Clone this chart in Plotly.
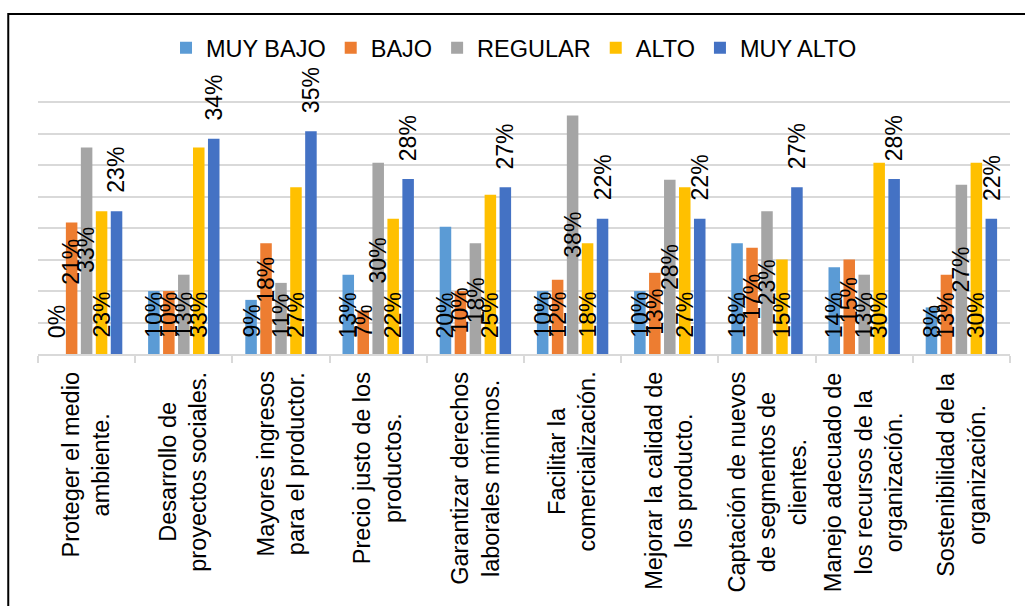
import plotly.graph_objects as go

categorias = [
    "Proteger el medio<br>ambiente.",
    "Desarrollo de<br>proyectos sociales.",
    "Mayores ingresos<br>para el productor.",
    "Precio justo de los<br>productos.",
    "Garantizar derechos<br>laborales mínimos.",
    "Facilitar la<br>comercialización.",
    "Mejorar la calidad de<br>los producto.",
    "Captación de nuevos<br>de segmentos de<br>clientes.",
    "Manejo adecuado de<br>los recursos de la<br>organización.",
    "Sostenibilidad de la<br>organización.",
]

series = ["MUY BAJO", "BAJO", "REGULAR", "ALTO", "MUY ALTO"]

# alturas de barra (%)
muy_bajo = [0, 10.0, 8.6, 12.6, 20.2, 10.0, 10.0, 17.6, 13.8, 7.4]
bajo = [20.9, 10.0, 17.6, 6.9, 10.0, 11.8, 12.9, 16.9, 15.0, 12.6]
regular = [32.8, 12.6, 11.3, 30.4, 17.6, 37.9, 27.7, 22.7, 12.6, 26.9]
alto = [22.7, 32.8, 26.5, 21.5, 25.3, 17.6, 26.5, 15.0, 30.4, 30.4]
muy_alto = [22.7, 34.2, 35.4, 27.8, 26.5, 21.5, 21.5, 26.5, 27.8, 21.5]

# etiquetas de datos (%)
et_muy_bajo = [0, 10, 9, 13, 20, 10, 10, 18, 14, 8]
et_bajo = [21, 10, 18, 7, 10, 12, 13, 17, 15, 13]
et_regular = [33, 13, 11, 30, 18, 38, 28, 23, 13, 27]
et_alto = [23, 33, 27, 22, 25, 18, 27, 15, 30, 30]
et_muy_alto = [23, 34, 35, 28, 27, 22, 22, 27, 28, 22]

valores = [muy_bajo, bajo, regular, alto, muy_alto]
etiquetas = [et_muy_bajo, et_bajo, et_regular, et_alto, et_muy_alto]
colores = ["#5B9BD5", "#ED7D31", "#A5A5A5", "#FFC000", "#4472C4"]

# etiquetas desplazadas a mano en el original: (serie, categoria) -> subida en %
label_lift = {
    (1, 0): 8.4, (2, 0): 10.3,
    (1, 2): 5.6,
    (2, 3): 8.7,
    (1, 4): 0.8, (2, 4): 2.4,
    (2, 5): 12.7,
    (1, 6): 0.5, (2, 6): 7.6,
    (1, 7): 2.9, (2, 7): 5.2,
    (1, 8): 2.4,
    (2, 9): 7.3,
}

FONT = "Liberation Sans, Arial, sans-serif"
BARGAP = 0.23
GRID = "#d9d9d9"

fig = go.Figure()
xs = list(range(len(categorias)))
for name, vals, col in zip(series, valores, colores):
    fig.add_trace(go.Bar(x=xs, y=[v / 100 for v in vals], name=name,
                         marker=dict(color=col, line=dict(width=0))))

annotations = []
slot = (1 - BARGAP) / len(series)
for si, (vals, labs) in enumerate(zip(valores, etiquetas)):
    for ci, (v, lab) in enumerate(zip(vals, labs)):
        x = ci + (si - (len(series) - 1) / 2) * slot
        if si == len(series) - 1:
            y, shift = v / 100, 16
        else:
            y, shift = label_lift.get((si, ci), 0) / 100, 14
        annotations.append(dict(x=x, y=y, xref="x", yref="y", text=f"{lab}%",
                                showarrow=False, textangle=-90, yanchor="bottom",
                                xanchor="center", yshift=shift,
                                font=dict(size=23, color="black", family=FONT)))

for ci, cat in enumerate(categorias):
    annotations.append(dict(x=ci, y=-0.063, xref="x", yref="paper", text=cat,
                            showarrow=False, textangle=-90, yanchor="top",
                            xanchor="center", align="center",
                            font=dict(size=23.5, color="black", family=FONT)))

fig.update_layout(
    width=1025, height=606,
    margin=dict(l=38, r=15, t=101, b=252),
    paper_bgcolor="white", plot_bgcolor="white",
    barmode="group", bargap=BARGAP, bargroupgap=0.23,
    font=dict(family=FONT, color="black", size=23),
    showlegend=True,
    legend=dict(orientation="h", x=0.1317, xanchor="left", y=1.21, yanchor="middle",
                font=dict(size=23.5, color="black", family=FONT),
                bgcolor="rgba(0,0,0,0)", traceorder="normal"),
    annotations=annotations,
    shapes=[dict(type="rect", xref="paper", yref="paper",
                 x0=-0.0306, x1=1.2, y0=-1.2, y1=1.344,
                 line=dict(color="black", width=2), layer="below")],
)
fig.update_xaxes(range=[-0.5, len(categorias) - 0.5], showticklabels=False,
                 showline=True, linecolor=GRID, linewidth=1.5,
                 ticks="outside", ticklen=7, tickcolor=GRID, tickwidth=1.5,
                 tickmode="array", tickvals=[i - 0.5 for i in range(len(categorias) + 1)],
                 showgrid=False, zeroline=False)
fig.update_yaxes(range=[0, 0.402], dtick=0.05, showticklabels=False,
                 showgrid=True, gridcolor=GRID, gridwidth=1.5, zeroline=False,
                 showline=False)

fig.write_html("out.html", config={"displayModeBar": False},
               post_script="document.body.style.margin='0';")
